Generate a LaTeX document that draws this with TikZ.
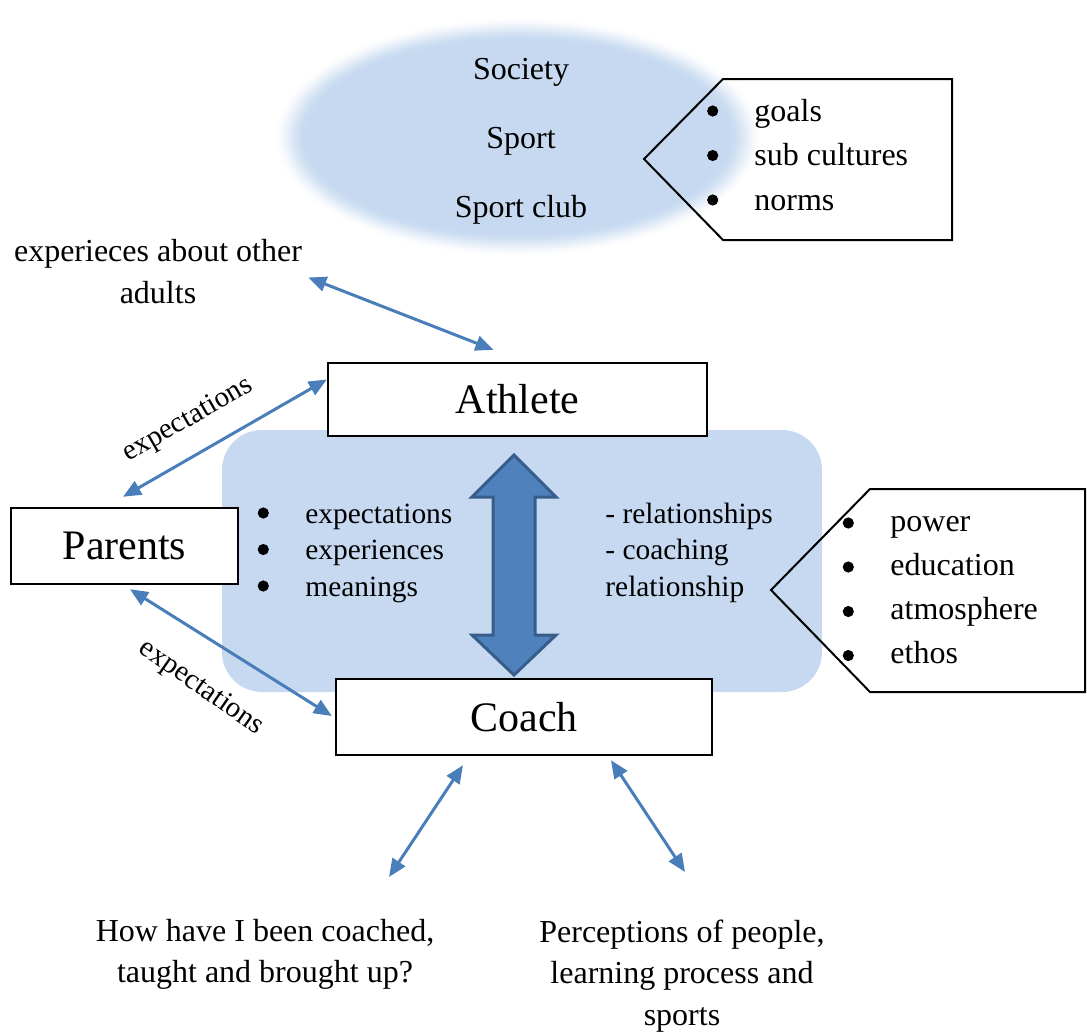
\documentclass[tikz,border=0pt]{standalone}
\usepackage{fontspec}
\setmainfont{Liberation Serif}
\usetikzlibrary{arrows.meta,calc}
\definecolor{lightblue}{RGB}{198,217,240}
\definecolor{arrblue}{RGB}{74,126,187}
\definecolor{bigfill}{RGB}{79,129,189}
\definecolor{bigdraw}{RGB}{56,93,138}
\tikzset{
  mainbox/.style={draw=black, line width=1.2pt, fill=white, inner sep=0pt, font=\fontsize{21}{25}\selectfont},
  conn/.style={draw=arrblue, line width=1.5pt, {Triangle[length=9pt,width=7.5pt]}-{Triangle[length=9pt,width=7.5pt]}},
  txt/.style={inner sep=0pt, align=center, font=\fontsize{16}{21}\selectfont},
  lab/.style={inner sep=0pt, font=\fontsize{14.5}{18}\selectfont},
  callout/.style={draw=black, line width=1pt, line join=miter},
  listnode/.style={inner sep=0pt, anchor=base west},
  bul/.style={fill=black},
}
\begin{document}
\begin{tikzpicture}[x=0.5pt,y=-0.5pt]
\useasboundingbox (0,0) rectangle (1087,1033);
% blurred ellipse (smoothstep fade)
\foreach \k in {1,...,24}{
  \pgfmathsetmacro\ta{(\k-1)/24}
  \pgfmathsetmacro\tb{\k/24}
  \pgfmathsetmacro\cA{3*\ta*\ta-2*\ta*\ta*\ta}
  \pgfmathsetmacro\cB{3*\tb*\tb-2*\tb*\tb*\tb}
  \pgfmathsetmacro\op{min(1,(\cB-\cA)/(1-\cA))}
  \pgfmathsetmacro\rx{122-(\k-1)*17/24}
  \pgfmathsetmacro\ry{60-(\k-1)*12.5/24}
  \fill[lightblue, opacity=\op] (518,137) ellipse [x radius=\rx pt, y radius=\ry pt];
}
% rounded rectangle
\fill[lightblue, rounded corners=20pt] (222,430) rectangle (822,692);
% callouts
\draw[callout] (723,79) -- (952,79) -- (952,240) -- (723,240) -- (644,159) -- cycle;
\draw[callout] (870,489) -- (1085,489) -- (1085,692) -- (870,692) -- (771,590) -- cycle;
% main boxes
\node[mainbox, minimum width=189.5pt, minimum height=36.5pt] (athlete) at (517.5,399.5) {Athlete};
\node[mainbox, minimum width=113.5pt, minimum height=38pt] (parents) at (124.5,546) {Parents};
\node[mainbox, minimum width=188pt, minimum height=38pt] (coach) at (524,717) {Coach};
% big double arrow
\draw[fill=bigfill, draw=bigdraw, line width=1.5pt, line join=miter]
  (514,455) -- (556,497) -- (535,497) -- (535,635) -- (556,635) -- (514,675)
  -- (472,635) -- (493,635) -- (493,497) -- (472,497) -- cycle;
% ellipse texts
\node[txt, anchor=base] (society) at (521,79) {Society};
\node[txt, anchor=base] (sport) at (521,148) {Sport};
\node[txt, anchor=base] (club) at (521,217) {Sport club};
% bullets
\foreach \yy in {111,155.5,200} \fill[bul] (712.7,\yy) circle (2.8pt);
\foreach \yy in {523,567,611.5,655.5} \fill[bul] (848.3,\yy) circle (2.8pt);
\foreach \yy in {513,549.5,586} \fill[bul] (263.3,\yy) circle (2.8pt);
% lists
\node[listnode, font=\fontsize{16}{22.25}\selectfont] (goals) at (754,121)
  {\begin{tabular}[t]{@{}l@{}}goals\\sub cultures\\norms\end{tabular}};
\node[listnode, font=\fontsize{16}{22.1}\selectfont] (power) at (890,531)
  {\begin{tabular}[t]{@{}l@{}}power\\education\\atmosphere\\ethos\end{tabular}};
\node[listnode, font=\fontsize{14.7}{18.25}\selectfont] (inner) at (305,523)
  {\begin{tabular}[t]{@{}l@{}}expectations\\experiences\\meanings\end{tabular}};
\node[listnode, font=\fontsize{14.7}{18.25}\selectfont] (rel) at (605,523)
  {\begin{tabular}[t]{@{}l@{}}- relationships\\- coaching\\relationship\end{tabular}};
% other texts
\node[txt] (exp) at (158,271.5) {experieces about other\\adults};
\node[lab, rotate=30] (lab1) at (188,420) {expectations};
\node[lab, rotate=-35] (lab2) at (201,688) {expectations};
\node[txt, font=\fontsize{16}{20.5}\selectfont] (b1) at (265,954) {How have I been coached,\\taught and brought up?};
\node[txt, font=\fontsize{16}{20.75}\selectfont] (b2) at (682,976) {Perceptions of people,\\learning process and\\sports};
\coordinate (cl) at (389,877);
\coordinate (cr) at (685,872);
% connectors
\draw[conn] ([xshift=3pt,yshift=-3pt]exp.east) -- ([xshift=-12pt,yshift=6pt]athlete.north);
\draw[conn] ([xshift=-0.75pt,yshift=5pt]parents.north) -- ([yshift=10pt]athlete.west);
\draw[conn] ([xshift=2.75pt,yshift=-2pt]parents.south) -- ([xshift=-1.5pt,yshift=0.5pt]coach.west);
\draw[conn] ([xshift=-30.5pt,yshift=-4.5pt]coach.south) -- (cl);
\draw[conn] ([xshift=43.5pt,yshift=-2pt]coach.south) -- (cr);
\end{tikzpicture}
\end{document}
